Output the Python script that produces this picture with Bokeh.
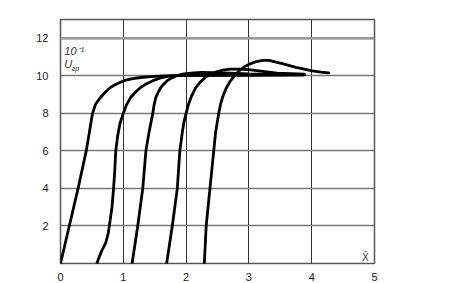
from bokeh.plotting import figure
from bokeh.models import Span, Label, FixedTicker, Range1d
from bokeh.embed import file_html
from bokeh.resources import INLINE

x_ticks = [0, 1, 2, 3, 4, 5]
y_ticks = [2, 4, 6, 8, 10, 12]

c1_x = [0.0, 0.14, 0.28, 0.41, 0.46, 0.51, 0.56, 0.64, 0.72, 0.80, 0.90, 1.01, 1.15, 1.28, 1.45, 1.65, 2.2, 3.0, 3.88]
c1_y = [0.0, 2.0, 4.0, 6.0, 7.0, 8.0, 8.5, 8.86, 9.15, 9.39, 9.58, 9.74, 9.85, 9.91, 9.96, 10.0, 10.02, 10.04, 10.05]

c2_x = [0.58, 0.61, 0.66, 0.72, 0.76, 0.79, 0.82, 0.845, 0.865, 0.88, 0.91, 0.95, 1.0, 1.05, 1.12, 1.2, 1.28, 1.37, 1.47, 1.58, 1.70, 1.85, 3.0, 3.88]
c2_y = [0.0, 0.3, 0.7, 1.1, 1.6, 2.3, 3.0, 4.0, 5.0, 6.0, 6.8, 7.5, 8.0, 8.45, 8.86, 9.15, 9.39, 9.58, 9.74, 9.87, 9.97, 10.02, 10.04, 10.05]

c3_x = [1.14, 1.23, 1.31, 1.36, 1.41, 1.47, 1.49, 1.52, 1.56, 1.60, 1.65, 1.70, 1.76, 1.83, 1.92, 2.0, 2.12, 2.25, 2.6, 3.0, 3.88]
c3_y = [0.0, 2.0, 4.0, 6.0, 7.0, 8.0, 8.45, 8.86, 9.15, 9.39, 9.58, 9.74, 9.87, 9.98, 10.07, 10.12, 10.16, 10.18, 10.15, 10.1, 10.08]

c4_x = [1.69, 1.78, 1.86, 1.90, 1.94, 1.97, 2.0, 2.04, 2.09, 2.15, 2.22, 2.30, 2.38, 2.47, 2.58, 2.7, 2.85, 3.03, 3.25, 3.45, 3.88]
c4_y = [0.0, 2.0, 4.0, 6.0, 7.0, 7.6, 8.0, 8.5, 8.95, 9.35, 9.65, 9.9, 10.07, 10.2, 10.3, 10.36, 10.36, 10.32, 10.22, 10.14, 10.09]

c5_x = [2.29, 2.32, 2.38, 2.44, 2.47, 2.52, 2.55, 2.59, 2.64, 2.70, 2.77, 2.85, 2.93, 3.03, 3.12, 3.22, 3.32, 3.45, 3.56, 3.75, 4.01, 4.15, 4.27]
c5_y = [0.0, 2.0, 4.0, 6.0, 7.0, 8.0, 8.5, 8.95, 9.35, 9.7, 10.0, 10.28, 10.48, 10.65, 10.76, 10.82, 10.82, 10.72, 10.62, 10.45, 10.26, 10.2, 10.16]

curves = [(c1_x, c1_y), (c2_x, c2_y), (c3_x, c3_y), (c4_x, c4_y), (c5_x, c5_y)]

p = figure(width=451, height=283, output_backend="svg", toolbar_location=None,
           x_range=Range1d(0, 5), y_range=Range1d(0, 13),
           min_border_left=60, min_border_right=77, min_border_top=19, min_border_bottom=16)
p.background_fill_color = "white"
p.border_fill_color = "white"
p.outline_line_color = "#555555"
p.outline_line_width = 1.5

p.xaxis.ticker = FixedTicker(ticks=x_ticks)
p.yaxis.ticker = FixedTicker(ticks=y_ticks)
for ax in (p.xaxis, p.yaxis):
    ax.axis_line_color = None
    ax.major_tick_line_color = None
    ax.minor_tick_line_color = None
    ax.major_label_text_font = "Liberation Sans"
    ax.major_label_text_font_size = "11px"
    ax.major_label_text_color = "#222222"
p.xaxis.major_label_standoff = 3
p.yaxis.major_label_standoff = 6

p.xgrid.grid_line_color = "#333333"
p.xgrid.grid_line_width = 1
p.ygrid.grid_line_color = "#777777"
p.ygrid.grid_line_width = 1.4

p.add_layout(Span(location=y_ticks[-1], dimension="width", line_color="#999999", line_width=2.5))

for cx, cy in curves:
    p.line(cx, cy, line_color="black", line_width=2.8, line_join="round", line_cap="round")

p.add_layout(Label(x=0.06, y=11.0, text="10⁻¹", text_font="Liberation Sans", text_font_style="italic",
                   text_font_size="11px", text_color="#333333"))
p.add_layout(Label(x=0.06, y=10.3, text="U", text_font="Liberation Sans", text_font_style="italic",
                   text_font_size="11px", text_color="#333333"))
p.add_layout(Label(x=0.18, y=10.2, text="гр", text_font="Liberation Sans", text_font_style="italic",
                   text_font_size="7px", text_color="#333333"))
p.add_layout(Label(x=4.80, y=0.05, text="X̃", text_font="DejaVu Sans",
                   text_font_size="10px", text_color="#444444"))

open("out.html", "w").write(file_html(p, INLINE))
